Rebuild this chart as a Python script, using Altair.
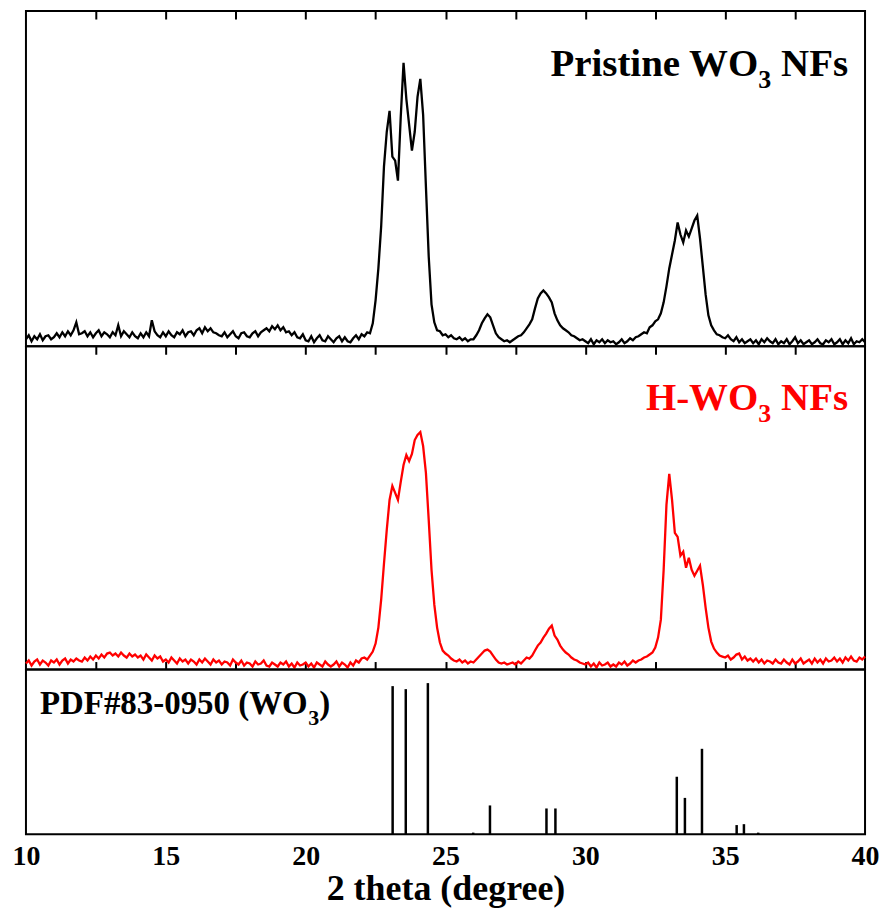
import altair as alt
import pandas as pd
import numpy as np

# 2-theta grid (0.1 degree steps, 10..40)
two_theta = [round(10 + 0.1 * i, 1) for i in range(301)]

# Pristine WO3 NFs (black), arbitrary intensity
pristine = [
    7, 11, 5, 10, 7, 12, 6, 10, 11, 7,
    9, 13, 9, 14, 10, 15, 11, 16, 24, 12,
    13, 15, 10, 14, 9, 13, 16, 10, 14, 12,
    9, 14, 11, 21, 10, 15, 12, 9, 14, 10,
    8, 13, 9, 14, 10, 26, 15, 11, 9, 14,
    10, 15, 11, 9, 14, 12, 16, 10, 14, 15,
    11, 16, 18, 13, 19, 15, 18, 14, 13, 11,
    10, 14, 9, 12, 15, 10, 8, 13, 14, 10,
    9, 13, 15, 10, 14, 16, 18, 15, 20, 17,
    21, 16, 19, 14, 15, 11, 14, 9, 8, 12,
    6, 5, 10, 4, 8, 11, 6, 5, 10, 7,
    4, 8, 10, 5, 9, 5, 4, 8, 11, 7,
    12, 10, 14, 13, 23, 46, 78, 120, 180, 215,
    236, 190, 186, 166, 230, 284, 248, 222, 196, 215,
    250, 268, 232, 160, 90, 42, 24, 16, 15, 11,
    12, 9, 11, 8, 7, 9, 6, 8, 5, 7,
    7, 11, 16, 23, 28, 32, 29, 21, 13, 9,
    7, 5, 6, 4, 6, 8, 10, 11, 14, 18,
    22, 27, 38, 48, 53, 56, 53, 49, 44, 33,
    26, 21, 18, 16, 14, 11, 10, 8, 6, 7,
    5, 3, 7, 2, 6, 4, 7, 3, 6, 4,
    5, 2, 4, 7, 3, 5, 8, 6, 9, 10,
    12, 14, 13, 19, 21, 25, 27, 33, 44, 60,
    78, 92, 106, 124, 112, 104, 116, 110, 118, 126,
    131, 108, 80, 52, 31, 21, 16, 12, 11, 9,
    8, 11, 7, 5, 9, 4, 7, 3, 5, 7,
    3, 6, 2, 7, 4, 8, 5, 3, 7, 2,
    5, 3, 7, 2, 5, 9, 3, 6, 2, 4,
    6, 2, 4, 7, 3, 2, 6, 4, 7, 2,
    4, 7, 2, 6, 3, 8, 2, 5, 4, 7,
    4,
]

# H-WO3 NFs (red), arbitrary intensity
hydro = [
    6, 9, 4, 8, 10, 5, 9, 7, 4, 9,
    7, 10, 5, 9, 11, 6, 10, 8, 11, 9,
    8, 12, 9, 13, 10, 14, 11, 15, 12, 16,
    17, 14, 16, 13, 17, 14, 12, 16, 13, 15,
    12, 14, 10, 15, 12, 9, 14, 11, 13, 8,
    10, 7, 12, 9, 6, 11, 8, 10, 6, 10,
    8, 5, 10, 7, 11, 8, 5, 10, 7, 9,
    5, 8, 7, 4, 10, 7, 5, 9, 4, 7,
    6, 3, 8, 5, 6, 9, 4, 3, 7, 5,
    3, 7, 5, 8, 3, 6, 2, 7, 4, 5,
    7, 3, 6, 2, 7, 5, 3, 8, 5, 3,
    5, 8, 3, 7, 5, 2, 7, 4, 9, 7,
    11, 12, 10, 14, 18, 26, 42, 70, 106, 140,
    170, 184, 177, 170, 188, 205, 215, 209, 216, 230,
    235, 238, 224, 197, 150, 100, 65, 42, 27, 19,
    16, 14, 11, 9, 8, 10, 7, 9, 6, 8,
    7, 10, 13, 16, 19, 20, 18, 14, 10, 7,
    6, 7, 5, 6, 7, 5, 8, 6, 9, 12,
    11, 14, 19, 24, 27, 32, 36, 41, 44, 34,
    30, 24, 20, 17, 15, 12, 10, 9, 7, 6,
    5, 7, 3, 6, 2, 7, 4, 5, 7, 3,
    5, 3, 7, 5, 8, 4, 6, 9, 7, 9,
    10, 12, 13, 15, 17, 22, 32, 50, 100, 165,
    196, 170, 137, 133, 114, 118, 102, 112, 100, 94,
    99, 104, 85, 62, 42, 28, 21, 17, 14, 13,
    12, 14, 10, 12, 15, 16, 10, 13, 9, 11,
    8, 11, 7, 10, 6, 9, 8, 6, 10, 7,
    6, 10, 7, 5, 10, 6, 8, 11, 6, 8,
    10, 6, 11, 7, 10, 6, 11, 8, 9, 12,
    8, 11, 7, 12, 9, 13, 9, 8, 12, 10,
    13,
]

# PDF#83-0950 reference sticks
pdf_pos = [23.11, 23.58, 24.37, 25.99, 26.59, 28.61, 28.93, 33.27, 33.56, 34.17, 35.41, 35.67, 36.18]
pdf_int = [98, 96, 100, 1, 19, 17, 17, 38, 24, 56.5, 6, 6.6, 1]

tick_vals = [12.5, 15, 17.5, 20, 22.5, 25, 27.5, 30, 32.5, 35, 37.5]
label_vals = [10, 15, 20, 25, 30, 35, 40]

FONT = "Liberation Serif"
W = 841
H_TOP, H_MID, H_BOT = 336, 324, 165

df = pd.DataFrame({"x": two_theta, "pristine": pristine, "hydro": hydro})
sticks = pd.DataFrame({"x": pdf_pos, "i": pdf_int})

xscale = alt.Scale(domain=[10, 40], nice=False, zero=False)


def in_axis(orient):
    return alt.Axis(orient=orient, offset=-8, tickSize=8, tickWidth=2, tickColor="black",
                    values=tick_vals, labels=False, domain=False, grid=False, title=None,
                    minExtent=0)


def txt(s, x, y, size, color, align="left"):
    return alt.Chart(pd.DataFrame({"t": [s]})).mark_text(
        font=FONT, fontWeight="bold", fontSize=size, color=color, align=align,
        baseline="alphabetic"
    ).encode(text="t:N", x=alt.value(x), y=alt.value(y))


# --- top panel
top_line = alt.Chart(df).mark_line(color="black", strokeWidth=2.3).encode(
    x=alt.X("x:Q", scale=xscale, axis=in_axis("top")),
    y=alt.Y("pristine:Q", scale=alt.Scale(domain=[0, H_TOP]), axis=None),
)
top = alt.layer(
    top_line,
    txt("NFs", 824, 65, 39, "black", "right"),
    txt("3", 747, 77, 26, "black", "right"),
    txt("Pristine WO", 734, 65, 39, "black", "right"),
).properties(width=W, height=H_TOP)

# --- middle panel
mid_line = alt.Chart(df).mark_line(color="#ff0000", strokeWidth=2.3).encode(
    x=alt.X("x:Q", scale=xscale, axis=in_axis("top")),
    y=alt.Y("hydro:Q", scale=alt.Scale(domain=[0, H_MID]), axis=None),
)
mid_axis2 = alt.Chart(df).mark_line(strokeOpacity=0).encode(
    x=alt.X("x:Q", scale=xscale, axis=in_axis("bottom")),
    y=alt.Y("hydro:Q", scale=alt.Scale(domain=[0, H_MID]), axis=None),
)
mid = alt.layer(
    mid_line, mid_axis2,
    txt("NFs", 824, 64, 39, "#ff0000", "right"),
    txt("3", 747, 76, 26, "#ff0000", "right"),
    txt("H-WO", 734, 64, 39, "#ff0000", "right"),
).resolve_axis(x="independent").properties(width=W, height=H_MID)

# --- bottom panel
bot_rules = alt.Chart(sticks).mark_rule(color="black", strokeWidth=2.5).encode(
    x=alt.X("x:Q", scale=xscale,
            axis=alt.Axis(orient="bottom", values=label_vals, tickSize=0, domain=False, grid=False,
                          labelFont=FONT, labelFontWeight="bold", labelFontSize=28,
                          labelColor="black", labelPadding=8, labelFlush=False,
                          title="2 theta (degree)", titleFont=FONT, titleFontWeight="bold",
                          titleFontSize=36, titleColor="black", titlePadding=2)),
    y=alt.Y("i:Q", scale=alt.Scale(domain=[0, 109]), axis=None),
    y2=alt.datum(0),
)
bot = alt.layer(
    bot_rules,
    txt("PDF#83-0950 (WO", 14, 45, 33, "black", "left"),
    txt("3", 283, 56, 22, "black", "left"),
    txt(")", 294, 45, 33, "black", "left"),
).properties(width=W, height=H_BOT)

chart = alt.vconcat(top, mid, bot, spacing=0, bounds="flush").properties(
    padding={"left": 3, "top": 0, "right": 0, "bottom": 0}
).configure_view(stroke="black", strokeWidth=2).configure_concat(spacing=0)

chart.save("out.html", embed_options={"renderer": "svg", "actions": False})
